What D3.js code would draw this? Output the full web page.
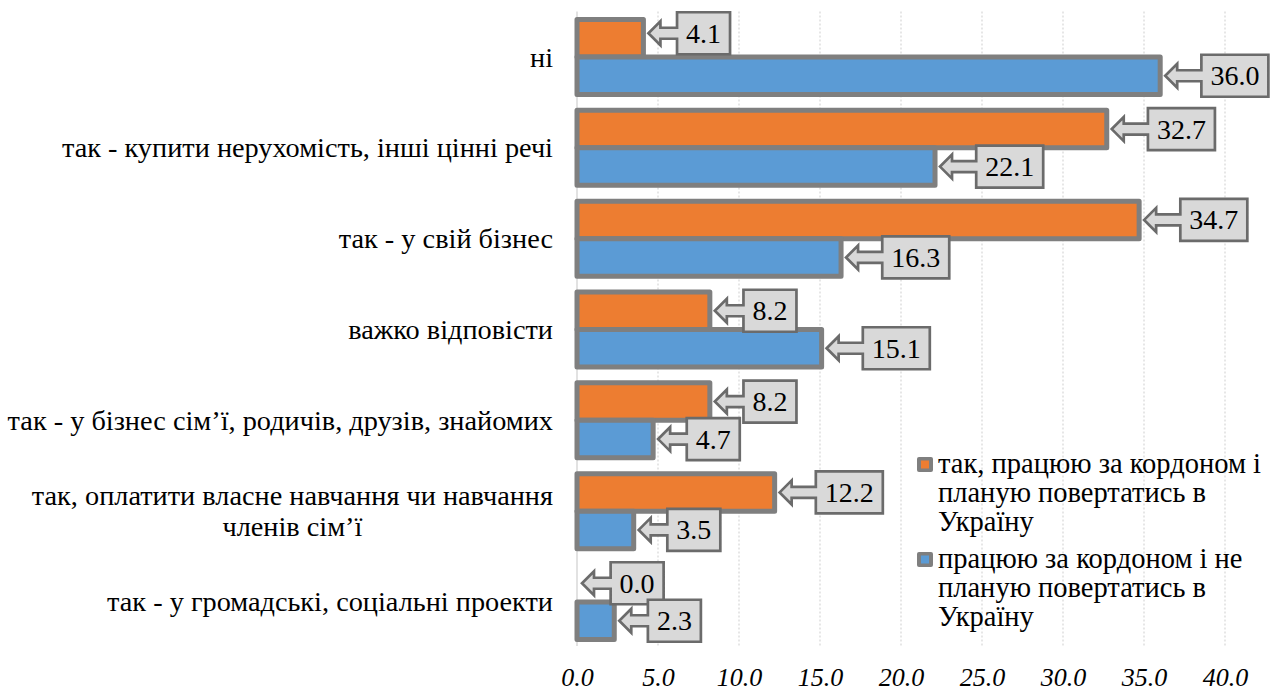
<!DOCTYPE html>
<html>
<head>
<meta charset="utf-8">
<script src="https://d3js.org/d3.v7.min.js"></script>
<style>
  body { margin: 0; background: #fff; }
  .grid line { stroke: #d9d9d9; stroke-width: 1.3; stroke-dasharray: 2 2; }
</style>
</head>
<body>
<svg id="chart" width="1276" height="691"></svg>
<script>
// categories, top to bottom ("\n" = line break in the label)
const categories = [
  "ні",
  "так - купити нерухомість, інші цінні речі",
  "так - у свій бізнес",
  "важко відповісти",
  "так - у бізнес сім’ї, родичів, друзів, знайомих",
  "так, оплатити власне навчання чи навчання\nчленів сім’ї",
  "так - у громадські, соціальні проекти"
];
const seriesNames = [
  "так, працюю за кордоном і\nпланую повертатись в\nУкраїну",
  "працюю за кордоном і не\nпланую повертатись в\nУкраїну"
];
const returnValues = [4.1, 32.7, 34.7, 8.2, 8.2, 12.2, 0.0];
const stayValues   = [36.0, 22.1, 16.3, 15.1, 4.7, 3.5, 2.3];
const xTicks = [0, 5, 10, 15, 20, 25, 30, 35, 40];

const FONT = "'Liberation Serif', serif";
const colors = ["#ed7d31", "#5b9bd5"];
const svg = d3.select("#chart");

const x = d3.scaleLinear().domain([0, 40]).range([577, 1225]);
const y = d3.scaleBand().domain(d3.range(categories.length))
  .range([11.6, 647.4]).paddingInner(0.174).paddingOuter(0.087);
const ySub = d3.scaleBand().domain([0, 1]).range([0, y.bandwidth()]);

// gridlines
svg.append("g").attr("class", "grid")
  .selectAll("line").data(xTicks.slice(1)).join("line")
  .attr("x1", d => x(d)).attr("x2", d => x(d))
  .attr("y1", 11.6).attr("y2", 646);
svg.append("line")
  .attr("x1", x(0)).attr("x2", x(0)).attr("y1", 11.6).attr("y2", 646)
  .attr("stroke", "#d9d9d9").attr("stroke-width", 1.5);

// x axis labels
const xAxis = d3.axisBottom(x).tickValues(xTicks).tickFormat(d3.format(".1f")).tickSize(0);
svg.append("g").attr("transform", "translate(0,665)").call(xAxis)
  .attr("font-family", null).attr("font-size", null)
  .call(g => g.select(".domain").remove())
  .selectAll("text")
  .style("font-family", FONT).style("font-size", "26px").style("font-style", "italic")
  .attr("fill", "#000");

// bars
const rows = categories.map((c, i) => [returnValues[i], stayValues[i]]);
const groups = svg.append("g").selectAll("g").data(rows).join("g")
  .attr("transform", (d, i) => `translate(0,${y(i)})`);
groups.selectAll("rect").data(d => d.map((v, s) => ({v, s}))).join("rect")
  .filter(d => d.v > 0)
  .attr("x", x(0)).attr("y", d => ySub(d.s))
  .attr("width", d => x(d.v) - x(0)).attr("height", ySub.bandwidth())
  .attr("fill", d => colors[d.s])
  .attr("stroke", "#7f7f7f").attr("stroke-width", 5)
  .attr("stroke-linejoin", "round");

// callout labels
const nudge = {"0-0": -5};
const callouts = svg.append("g");
rows.forEach((r, i) => r.forEach((v, s) => {
  const cy = y(i) + ySub(s) + ySub.bandwidth() / 2 + (nudge[i + "-" + s] || 0);
  const g = callouts.append("g");
  const t = g.append("text").text(v.toFixed(1))
    .style("font-family", FONT).style("font-size", "28px").attr("text-anchor", "middle");
  const tw = t.node().getComputedTextLength();
  const bw = tw + 18, bh = 42;
  const tip = x(v) + 5;
  const bx = tip + bw * 0.54;
  const hl = 12, hh = 12, sh = 5.5;
  const p = d3.path();
  p.moveTo(bx, cy - bh / 2);
  p.lineTo(bx + bw, cy - bh / 2);
  p.lineTo(bx + bw, cy + bh / 2);
  p.lineTo(bx, cy + bh / 2);
  p.lineTo(bx, cy + sh);
  p.lineTo(tip + hl, cy + sh);
  p.lineTo(tip + hl, cy + hh);
  p.lineTo(tip, cy);
  p.lineTo(tip + hl, cy - hh);
  p.lineTo(tip + hl, cy - sh);
  p.lineTo(bx, cy - sh);
  p.closePath();
  g.insert("path", "text").attr("d", p.toString())
    .attr("fill", "#d9d9d9").attr("stroke", "#6b6b6b").attr("stroke-width", 2.7);
  t.attr("x", bx + bw / 2).attr("y", cy + 9.5);
}));

// category labels
const catG = svg.append("g");
categories.forEach((c, i) => {
  const lines = c.split("\n");
  const cy = y(i) + y.bandwidth() / 2;
  const lh = 31.5;
  const texts = lines.map((ln, k) => catG.append("text").text(ln)
    .style("font-family", FONT).style("font-size", "28.3px")
    .attr("y", cy + 9.5 + (k - (lines.length - 1) / 2) * lh));
  const widths = texts.map(t => t.node().getComputedTextLength());
  const maxW = d3.max(widths);
  const center = 553 - maxW / 2;
  texts.forEach(t => t.attr("x", center).attr("text-anchor", "middle"));
});

// legend
const legend = svg.append("g");
let ly = 473;
seriesNames.forEach((name, s) => {
  legend.append("rect").attr("x", 917).attr("y", ly - 16).attr("width", 16).attr("height", 15)
    .attr("rx", 2).attr("fill", "#7f7f7f");
  legend.append("rect").attr("x", 921).attr("y", ly - 12.5).attr("width", 8).attr("height", 8)
    .attr("fill", colors[s]);
  name.split("\n").forEach((ln, k) => {
    legend.append("text").text(ln).attr("x", 938).attr("y", ly + k * 29)
      .style("font-family", FONT).style("font-size", "28.5px");
  });
  ly += 2 * 29 + 37;
});
</script>
</body>
</html>
